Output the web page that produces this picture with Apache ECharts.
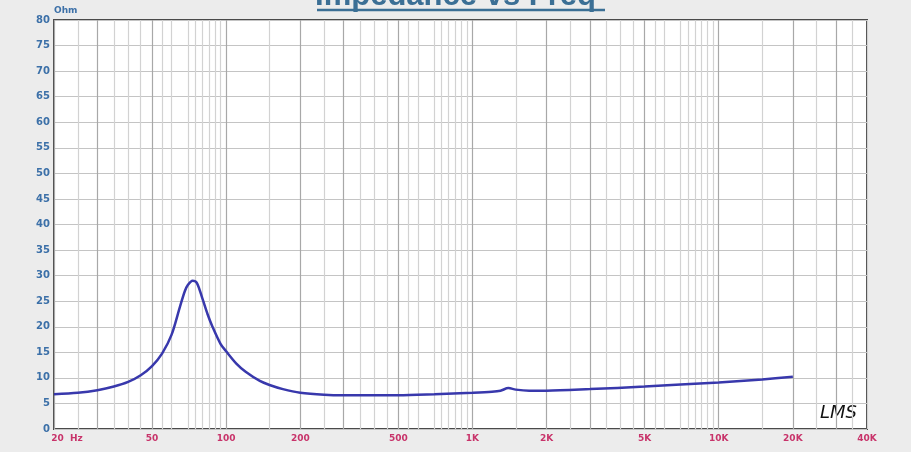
<!DOCTYPE html>
<html>
<head>
<meta charset="utf-8">
<title>Impedance vs Freq</title>
<script src="https://cdn.jsdelivr.net/npm/echarts@6/dist/echarts.min.js"></script>
<style>
  html, body { margin: 0; padding: 0; background: #ececec; }
  #chart { width: 911px; height: 452px; }
</style>
</head>
<body>
<div id="chart"></div>
<script>
// impedance curve
const freqHz = [20, 25, 30, 35, 40, 45, 50, 55, 60, 65, 68, 70, 73, 76, 80, 84, 88, 95, 100, 110, 120, 137, 150, 170, 200, 250, 300, 400, 500, 700, 1000, 1200, 1300, 1400, 1500, 1700, 2000, 3000, 5000, 7000, 10000, 15000, 20000];
const impedanceOhm = [6.8, 7.1, 7.6, 8.3, 9.2, 10.5, 12.3, 14.8, 18.4, 24.0, 27.0, 28.2, 29.0, 28.6, 25.6, 22.5, 20.0, 16.6, 15.2, 12.8, 11.2, 9.4, 8.6, 7.8, 7.1, 6.7, 6.6, 6.6, 6.6, 6.8, 7.1, 7.3, 7.5, 8.0, 7.7, 7.5, 7.5, 7.8, 8.3, 8.7, 9.1, 9.7, 10.2];

const xLabelValues = [20, 50, 100, 200, 500, 1000, 2000, 5000, 10000, 20000, 40000];
const xLabelText = ['20  Hz', '50', '100', '200', '500', '1K', '2K', '5K', '10K', '20K', '40K'];

// log grid: darker lines and lighter ones
const majorMantissa = [1, 2, 3, 5];
const minorMantissa = [1.5, 2.5, 3.5, 4, 4.5, 5.5, 6, 7, 7.5, 8, 8.5, 9, 9.5];

function gridValues(mant) {
  const out = [];
  [10, 100, 1000, 10000].forEach(function (d) {
    mant.forEach(function (m) {
      const v = Math.round(m * d * 10) / 10;
      if (v >= 20 && v <= 40000) out.push(v);
    });
  });
  return out;
}

const chart = echarts.init(document.getElementById('chart'));

const baseX = {
  type: 'log',
  logBase: 10,
  min: 20,
  max: 40000,
  gridIndex: 0,
  axisLine: { show: false },
};

chart.setOption({
  backgroundColor: '#ececec',
  animation: false,
  title: {
    text: 'Impedance vs Freq',
    left: 'center',
    top: -24,
    textStyle: {
      fontFamily: 'Liberation Sans',
      fontSize: 31,
      fontWeight: 'bold',
      color: '#3b6f95'
    }
  },
  grid: {
    left: 54,
    right: 44,
    top: 20,
    bottom: 23,
    show: true,
    backgroundColor: '#ffffff',
    borderColor: '#4a4a4a',
    borderWidth: 2
  },
  xAxis: [
    Object.assign({}, baseX, {
      axisTick: { show: false, customValues: gridValues(majorMantissa) },
      axisLabel: {
        customValues: xLabelValues,
        margin: 5,
        color: '#c8336a',
        fontFamily: 'DejaVu Sans',
        fontSize: 9,
        fontWeight: 'bold',
        formatter: function (v) {
          const i = xLabelValues.indexOf(Math.round(v));
          const t = i >= 0 ? xLabelText[i] : '';
          return i === 0 ? '{h|' + t + '}' : t;
        },
        rich: {
          h: { padding: [0, 0, 0, 26], color: '#c8336a', fontFamily: 'DejaVu Sans', fontSize: 9, fontWeight: 'bold' }
        }
      },
      splitLine: { show: true, lineStyle: { color: '#a8a8a8', width: 1.2 } }
    }),
    Object.assign({}, baseX, {
      axisTick: { show: false, customValues: gridValues(minorMantissa) },
      axisLabel: { show: false },
      splitLine: { show: true, lineStyle: { color: '#d2d2d2', width: 1.2 } }
    })
  ],
  yAxis: {
    type: 'value',
    min: 0,
    max: 80,
    interval: 5,
    name: 'Ohm',
    nameLocation: 'end',
    nameGap: 3,
    nameTextStyle: {
      align: 'left',
      color: '#3c70a8',
      fontFamily: 'DejaVu Sans',
      fontSize: 9,
      fontWeight: 'bold'
    },
    axisLine: { show: false },
    axisTick: { show: false },
    axisLabel: {
      margin: 4,
      color: '#3c70a8',
      fontFamily: 'DejaVu Sans',
      fontSize: 10,
      fontWeight: 'bold'
    },
    splitLine: { show: true, lineStyle: { color: '#c4c4c4', width: 1.2 } }
  },
  graphic: [
    {
      type: 'line',
      shape: { x1: 317, y1: 10, x2: 605, y2: 10 },
      style: { stroke: '#3b6f95', lineWidth: 2.5 }
    },
    {
      type: 'text',
      x: 820,
      y: 404,
      style: {
        text: 'LMS',
        fill: '#111',
        font: 'italic 18px "DejaVu Sans"'
      }
    }
  ],
  series: [
    {
      type: 'line',
      xAxisIndex: 0,
      smooth: 0.3,
      showSymbol: false,
      lineStyle: { color: '#3838ac', width: 2.5 },
      data: freqHz.map(function (f, i) { return [f, impedanceOhm[i]]; })
    }
  ]
});
</script>
</body>
</html>
